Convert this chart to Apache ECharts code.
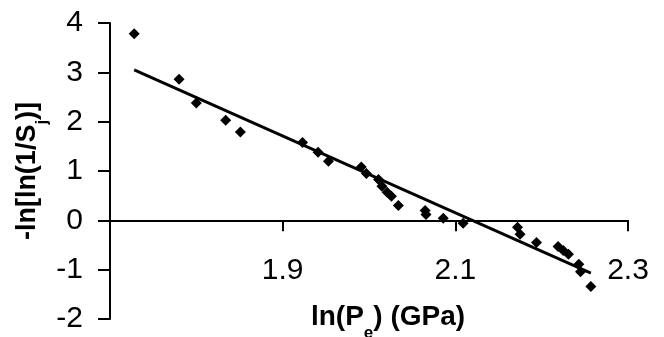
<!DOCTYPE html>
<html>
<head>
<meta charset="utf-8">
<script src="https://cdn.jsdelivr.net/npm/echarts@6/dist/echarts.min.js"></script>
<style>
html,body{margin:0;padding:0;background:#fff;}
#main{width:664px;height:337px;}
</style>
</head>
<body>
<div id="main"></div>
<script>
// Data
var xVals = [1.728,1.780,1.800,1.834,1.851,1.923,1.941,1.953,1.991,1.997,2.011,2.015,2.021,2.026,2.034,2.065,2.066,2.086,2.109,2.172,2.175,2.194,2.219,2.225,2.231,2.243,2.245,2.257];
var yVals = [3.78,2.86,2.38,2.03,1.79,1.58,1.38,1.20,1.08,0.95,0.83,0.69,0.57,0.49,0.30,0.20,0.12,0.04,-0.06,-0.14,-0.28,-0.45,-0.53,-0.61,-0.69,-0.89,-1.04,-1.34];
var trendX = [1.728, 2.257];
var trendY = [3.05, -1.07];
var xTicks = [1.7, 1.9, 2.1, 2.3];
var yTicks = [-2, -1, 0, 1, 2, 3, 4];

var FONT = 'Liberation Sans';
var points = xVals.map(function (x, i) { return [x, yVals[i]]; });
var trend = trendX.map(function (x, i) { return [x, trendY[i]]; });

var chart = echarts.init(document.getElementById('main'), null, {renderer: 'canvas'});
var axisLineStyle = {color: '#000', width: 2};
chart.setOption({
  animation: false,
  backgroundColor: '#fff',
  grid: {left: 110, right: 36, top: 23, bottom: 18, containLabel: false, outerBoundsMode: 'none'},
  xAxis: {
    type: 'value',
    min: xTicks[0], max: xTicks[xTicks.length - 1], interval: 0.2,
    axisLine: {show: true, onZero: true, lineStyle: axisLineStyle},
    axisTick: {show: true, inside: false, length: 11, lineStyle: axisLineStyle},
    splitLine: {show: false},
    axisLabel: {
      margin: -63, color: '#000', fontSize: 30, fontFamily: FONT,
      formatter: function (v) { return v < 1.75 ? '' : v.toFixed(1); }
    }
  },
  yAxis: {
    type: 'value',
    min: yTicks[0], max: yTicks[yTicks.length - 1], interval: 1,
    axisLine: {show: true, onZero: false, lineStyle: axisLineStyle},
    axisTick: {show: true, inside: false, length: 12, lineStyle: axisLineStyle},
    splitLine: {show: false},
    axisLabel: {margin: 27, color: '#000', fontSize: 30, fontFamily: FONT}
  },
  series: [
    {
      type: 'line', data: trend, symbol: 'none',
      lineStyle: {color: '#000', width: 2.8}, z: 2
    },
    {
      type: 'scatter', data: points, symbol: 'diamond', symbolSize: 11,
      itemStyle: {color: '#000', opacity: 1}, z: 3
    }
  ],
  graphic: [
    {
      type: 'text', x: 388, y: 303,
      style: {
        text: '{a|ln(P}{s|e}{a|) (GPa)}',
        align: 'center', verticalAlign: 'top',
        rich: {
          a: {fontSize: 28, fontWeight: 'bold', fontFamily: FONT, lineHeight: 30, verticalAlign: 'top', fill: '#000'},
          s: {fontSize: 17, fontWeight: 'bold', fontFamily: FONT, lineHeight: 60, fill: '#000'}
        }
      }
    },
    {
      type: 'text', x: 14, y: 171, rotation: Math.PI / 2,
      style: {
        text: '{a|-ln[ln(1/S}{s|j}{a|)]}',
        align: 'center', verticalAlign: 'top',
        rich: {
          a: {fontSize: 27, fontWeight: 'bold', fontFamily: FONT, lineHeight: 30, verticalAlign: 'top', fill: '#000'},
          s: {fontSize: 17, fontWeight: 'bold', fontFamily: FONT, lineHeight: 56, fill: '#000'}
        }
      }
    }
  ]
});
</script>
</body>
</html>
